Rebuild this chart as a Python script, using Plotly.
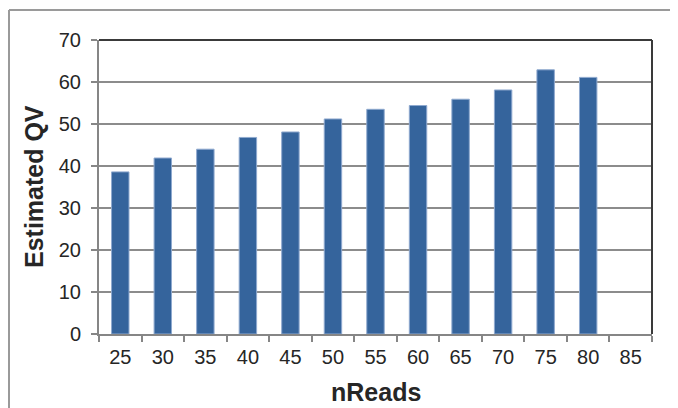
import plotly.graph_objects as go

categories = ["25", "30", "35", "40", "45", "50", "55", "60", "65", "70", "75", "80", "85"]
qv_values = [38.6, 41.9, 44.0, 46.8, 48.1, 51.2, 53.5, 54.4, 55.9, 58.1, 62.9, 61.1, None]
y_ticks = [0, 10, 20, 30, 40, 50, 60, 70]

fig = go.Figure()
fig.add_trace(go.Bar(
    x=categories, y=qv_values,
    marker=dict(color="#35649c", line=dict(color="#8fa9cf", width=1)),
))

# page has an 8px body margin; figure is sized to fill the rest of the window
OFF = 8
W, H = 678 - OFF, 408 - OFF
# plot area in page pixels: x 99..652, y 40..334
L, R, T, B = 99 - OFF, W - (652 - OFF), 40 - OFF, H - (334 - OFF)
pw, ph = W - L - R, H - T - B

def px(x):
    return (x - OFF - L) / pw

def py(y):
    return (H - B - (y - OFF)) / ph

tick_font = dict(family="Liberation Sans, Arial", size=20, color="#262626")

fig.update_layout(
    width=W, height=H,
    margin=dict(l=L, r=R, t=T, b=B, pad=0),
    paper_bgcolor="white", plot_bgcolor="white",
    bargap=0.59,
    showlegend=False,
    font=dict(family="Liberation Sans, Arial", size=18, color="#262626"),
    xaxis=dict(
        type="category", tickson="boundaries", ticks="outside", ticklen=6,
        tickcolor="#868686", tickwidth=1.5,
        showline=True, linecolor="#868686", linewidth=2,
        showgrid=False, tickfont=tick_font, ticklabelstandoff=4,
    ),
    yaxis=dict(
        range=[0, 70], tickvals=y_ticks, ticks="outside", ticklen=6,
        tickcolor="#868686", tickwidth=1.5,
        showline=True, linecolor="#868686", linewidth=2,
        showgrid=True, gridcolor="#8c8c8c", gridwidth=1.5,
        zeroline=False, tickfont=tick_font, ticklabelstandoff=6,
    ),
    annotations=[
        dict(text="<b>nReads</b>", xref="paper", yref="paper", x=px(376), y=py(392),
             xanchor="center", yanchor="middle", showarrow=False, font=dict(size=25)),
        dict(text="<b>Estimated QV</b>", xref="paper", yref="paper", x=px(34), y=py(187),
             xanchor="center", yanchor="middle", showarrow=False, textangle=-90,
             font=dict(size=25)),
    ],
    shapes=[
        dict(type="line", xref="paper", yref="paper", x0=0, x1=1, y0=1, y1=1,
             line=dict(color="#3a3a3a", width=2)),
        dict(type="line", xref="paper", yref="paper", x0=1, x1=1, y0=0, y1=1,
             line=dict(color="#3a3a3a", width=2)),
        dict(type="line", xref="paper", yref="paper", x0=px(9), x1=px(690), y0=py(10), y1=py(10),
             line=dict(color="#9a9a9a", width=2)),
        dict(type="line", xref="paper", yref="paper", x0=px(9), x1=px(9), y0=py(10), y1=py(420),
             line=dict(color="#9a9a9a", width=2)),
    ],
)

fig.write_html("out.html")
